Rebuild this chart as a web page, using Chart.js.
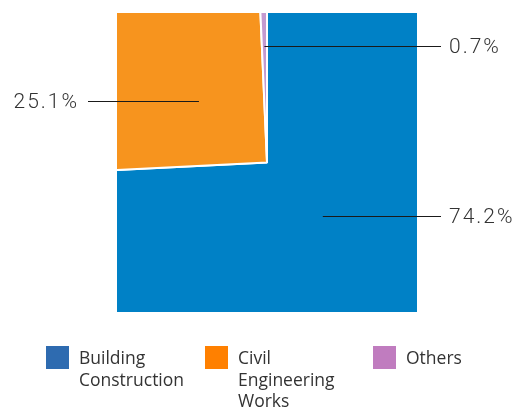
<!DOCTYPE html>
<html>
<head>
<meta charset="utf-8">
<script src="https://cdn.jsdelivr.net/npm/chart.js@4/dist/chart.umd.min.js"></script>
<style>
  body { margin: 0; background: #fff; }
  #wrap { position: relative; width: 513px; height: 407px; overflow: hidden; }
  #legend { position: absolute; left: 0; top: 346px; width: 513px; font-family: "Open Sans", sans-serif; font-size: 17.5px; line-height: 21.5px; color: #333; }
  .item { position: absolute; top: 0; }
  .box { position: absolute; left: 0; top: 0; width: 23px; height: 23px; }
  .txt { position: absolute; left: 33px; top: 1px; white-space: nowrap; }
</style>
</head>
<body>
<div id="wrap">
  <canvas id="myChart" width="513" height="407"></canvas>
  <div id="legend"></div>
</div>
<script>
var sectors = ['Building Construction', 'Civil Engineering Works', 'Others'];
var shares = [74.2, 25.1, 0.7];
var legendLines = [['Building', 'Construction'], ['Civil', 'Engineering', 'Works'], ['Others']];

var sliceColors = ['#0081C6', '#F7941E', '#C49AD0'];
var legendColors = ['#2E6BB0', '#FF8000', '#C07CBF'];
var legendX = [46, 205, 373];
// how far out from the centre each leader line starts
var leaderDepth = [77, 92, 117];

// percentage labels with horizontal leader lines
var leaderLabels = {
  id: 'leaderLabels',
  afterDatasetsDraw: function (chart) {
    var c = chart.ctx;
    var arcs = chart.getDatasetMeta(0).data;
    c.save();
    c.strokeStyle = '#1a1a1a';
    c.lineWidth = 1.2;
    c.fillStyle = '#333';
    c.font = '300 21px Roboto';
    c.letterSpacing = '2px';
    c.textBaseline = 'middle';
    arcs.forEach(function (arc, i) {
      var mid = (arc.startAngle + arc.endAngle) / 2;
      var ax = arc.x + Math.cos(mid) * leaderDepth[i];
      var ay = Math.round(arc.y + Math.sin(mid) * leaderDepth[i]) + 0.5;
      var right = Math.cos(mid) >= 0 || i == 2;
      var ex = right ? 441 : 88;
      c.beginPath();
      c.moveTo(ax, ay);
      c.lineTo(ex, ay);
      c.stroke();
      c.textAlign = right ? 'left' : 'right';
      c.fillText(shares[i].toFixed(1) + '%', right ? 449 : 79, ay + 1);
    });
    c.restore();
  }
};

var ctx = document.getElementById('myChart');
var myChart = new Chart(ctx, {
  type: 'pie',
  data: {
    labels: sectors,
    datasets: [{
      data: shares,
      backgroundColor: sliceColors,
      borderColor: '#fff',
      borderWidth: 2,
      clip: 0
    }]
  },
  options: {
    responsive: false,
    animation: false,
    events: [],
    radius: 320,
    layout: { padding: { left: 117, right: 96, top: 13, bottom: 95 } },
    plugins: {
      legend: { display: false },
      tooltip: { enabled: false }
    }
  },
  plugins: [leaderLabels]
});

// legend below the square
var legend = document.getElementById('legend');
sectors.forEach(function (name, i) {
  var item = document.createElement('div');
  item.className = 'item';
  item.style.left = legendX[i] + 'px';
  var box = document.createElement('div');
  box.className = 'box';
  box.style.background = legendColors[i];
  var txt = document.createElement('div');
  txt.className = 'txt';
  txt.innerHTML = legendLines[i].join('<br>');
  item.appendChild(box);
  item.appendChild(txt);
  legend.appendChild(item);
});
</script>
</body>
</html>
